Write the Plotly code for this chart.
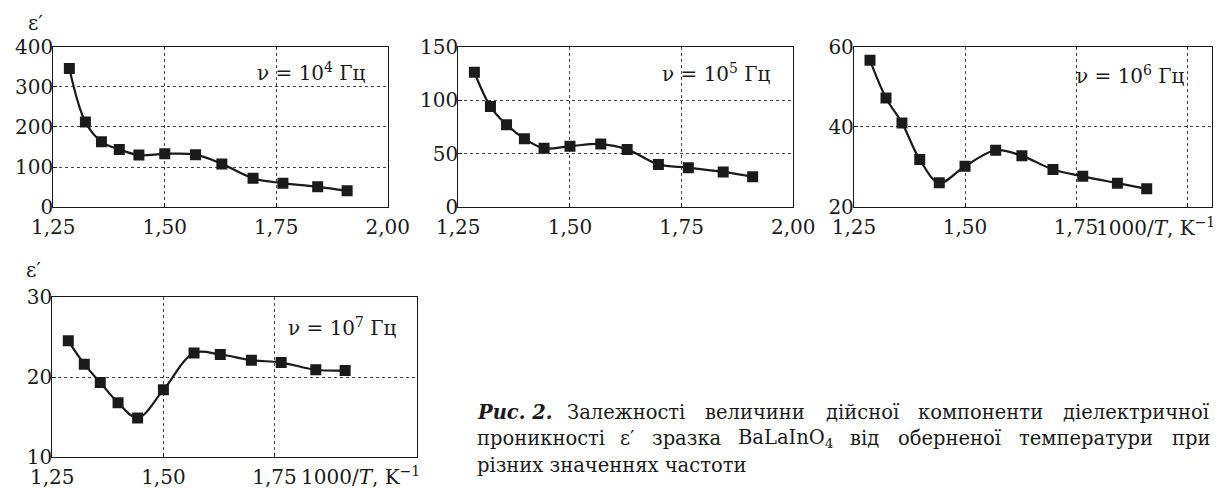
import plotly.graph_objects as go

# page offset (default body margin of the html page)
OFF = 8
W, H = 1221 - OFF, 489 - OFF

# data: inverse temperature (1000/T, K^-1) and epsilon' at four frequencies
inv_T = [1.286, 1.322, 1.358, 1.398, 1.442, 1.500, 1.569, 1.628, 1.698, 1.765, 1.843, 1.909]
eps_1e4 = [345, 212, 163, 144, 130, 133, 131, 108, 72, 60, 51, 41]
eps_1e5 = [126, 94, 77, 64, 55, 57, 59, 54, 40, 37, 33, 28.5]
eps_1e6 = [56.6, 47.2, 41.0, 31.9, 26.1, 30.2, 34.2, 32.8, 29.4, 27.7, 26.0, 24.6]
eps_1e7 = [24.5, 21.6, 19.3, 16.8, 14.9, 18.4, 23.0, 22.8, 22.1, 21.8, 20.9, 20.8]

freq_exp = ["4", "5", "6", "7"]
x_tickvals_full = [1.25, 1.50, 1.75, 2.00]
x_ticktext_full = ["1,25", "1,50", "1,75", "2,00"]

FONT = "DejaVu Serif"
INK = "#1a1a1a"
FS = 20


def px(x):
    return (x - OFF) / W


def py(y):
    return 1 - (y - OFF) / H


# panel frames in window pixels: (left, right, top, bottom)
frames = [
    (53.3, 387.7, 46.5, 207.3),
    (458.3, 793.3, 46.5, 207.3),
    (854.0, 1212.0, 46.5, 207.3),
    (52.3, 416.7, 296.7, 457.3),
]
series = [eps_1e4, eps_1e5, eps_1e6, eps_1e7]
yranges = [(0, 400), (0, 150), (20, 60), (10, 30)]
ytickvals = [[0, 100, 200, 300, 400], [0, 50, 100, 150], [20, 40, 60], [10, 20, 30]]
xranges = [(1.25, 2.00), (1.25, 2.00), (1.25, 2.056), (1.25, 2.07)]
xtv = [x_tickvals_full, x_tickvals_full, x_tickvals_full, x_tickvals_full[:3]]
xtt = [x_ticktext_full, x_ticktext_full, x_ticktext_full[:3] + [""], x_ticktext_full[:3]]

fig = go.Figure()
layout = dict(
    width=W, height=H, autosize=False,
    margin=dict(l=0, r=0, t=0, b=0, pad=0, autoexpand=False),
    paper_bgcolor="white", plot_bgcolor="white",
    showlegend=False,
    font=dict(family=FONT, color=INK, size=FS),
)

for i, (fr, ys) in enumerate(zip(frames, series)):
    n = "" if i == 0 else str(i + 1)
    xa, ya = "x" + n, "y" + n
    fig.add_trace(go.Scatter(
        x=inv_T, y=ys, xaxis=xa, yaxis=ya, mode="lines",
        line=dict(color=INK, width=2.2, shape="spline", smoothing=1.0),
        hoverinfo="skip",
    ))
    fig.add_trace(go.Scatter(
        x=inv_T, y=ys, xaxis=xa, yaxis=ya, mode="markers",
        marker=dict(symbol="square", size=11, color=INK, line=dict(width=0)),
    ))
    l, r, t, b = fr
    common = dict(
        showline=True, mirror=True, linecolor=INK, linewidth=1.3,
        showgrid=True, gridcolor="#444", griddash="dot", gridwidth=1,
        zeroline=False, ticks="inside", ticklen=4, tickcolor=INK,
        tickfont=dict(family=FONT, size=FS, color=INK), automargin=False,
    )
    layout["xaxis" + n] = dict(
        domain=[px(l), px(r)], range=list(xranges[i]), anchor=ya,
        tickvals=xtv[i], ticktext=xtt[i], ticklabelstandoff=2, **common,
    )
    layout["yaxis" + n] = dict(
        domain=[py(b), py(t)], range=list(yranges[i]), anchor=xa,
        tickvals=ytickvals[i], ticktext=[str(v) for v in ytickvals[i]],
        ticklabelstandoff=-5, **common,
    )

fig.update_layout(**layout)

ann = []


def add_text(x, y, text, anchor="center", size=FS):
    ann.append(dict(x=px(x), y=py(y), xref="paper", yref="paper", showarrow=False,
                    text=text, font=dict(family=FONT, size=size, color=INK),
                    xanchor=anchor, yanchor="middle"))


# frequency labels
nu_pos = [(311, 72), (716, 73), (1130, 75), (343, 327)]
for (x, y), e in zip(nu_pos, freq_exp):
    add_text(x, y, f"ν = 10<sup>{e}</sup> Гц")
# epsilon' axis labels
for (x, y) in [(35, 23), (33, 270)]:
    add_text(x, y, "ε′")
# x-axis titles
for (x, y) in [(1217, 227), (422, 476)]:
    add_text(x, y, "1000/<i>T</i>, K<sup>−1</sup>", anchor="right")

# caption: justified lines, words spread between left and right margins
CFS = 19.5
CAP_L, CAP_R = 475, 1212
cap1 = ["<b><i>Рис. 2.</i></b>", "Залежності", "величини", "дійсної", "компоненти", "діелектричної"]
cap1_em = [3.78, 6.26, 5.39, 3.86, 6.65, 7.72]      # approx. word widths in em
cap2 = ["проникності", "ε′", "зразка", "BaLaInO<sub>4</sub>", "від", "оберненої", "температури", "при"]
cap2_em = [6.5, 0.76, 3.57, 4.9, 1.61, 5.36, 7.09, 2.04]
cap3 = "різних значеннях частоти"

for words, ems, y in [(cap1, cap1_em, 412), (cap2, cap2_em, 438)]:
    ws = [e * CFS for e in ems]
    gap = (CAP_R - CAP_L - sum(ws)) / (len(ws) - 1)
    x = CAP_L
    for k, (w, wd) in enumerate(zip(words, ws)):
        if k == len(words) - 1:
            add_text(CAP_R, y, w, anchor="right", size=CFS)
        else:
            add_text(x, y, w, anchor="left", size=CFS)
        x += wd + gap
add_text(CAP_L, 465, cap3, anchor="left", size=CFS)

fig.update_layout(annotations=ann)
fig.write_html("out.html")
